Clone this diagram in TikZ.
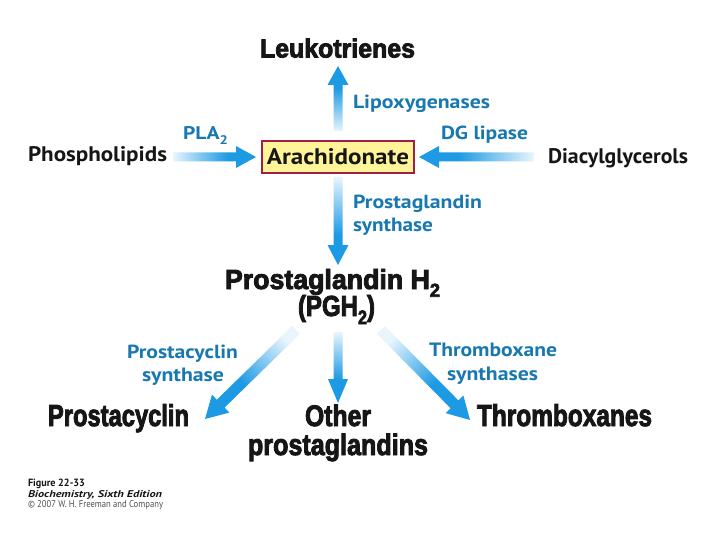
\documentclass[tikz,border=0pt]{standalone}
\usepackage{fontspec}
\usepackage{graphicx}
\setmainfont{PT Sans}
\newfontfamily\hfont{Liberation Sans}[BoldFeatures={FakeBold=3.2}]
\usetikzlibrary{calc}
\definecolor{labblue}{RGB}{24,120,176}
\definecolor{arblue}{RGB}{28,154,228}
\definecolor{arlight}{RGB}{232,245,253}
\definecolor{boxfill}{RGB}{255,245,152}
\definecolor{boxline}{RGB}{158,32,72}
\definecolor{ink}{RGB}{22,22,22}
\pgfdeclareverticalshading{arrowshade}{100bp}{color(0bp)=(arblue); color(25bp)=(arblue); color(42bp)=(arblue); color(75bp)=(arlight); color(100bp)=(arlight)}
\newcommand\lsub[1]{\raisebox{-0.28em}{\scalebox{0.68}{#1}}}
\newcommand\hd[3]{\resizebox{#1pt}{#2pt}{\hfont\bfseries #3}}
\newcommand\lb[3]{\resizebox{#1pt}{#2pt}{\bfseries #3}}
% tail, tip, shading angle, shaft half width, head half width, head length
\newcommand\fatarrow[6]{%
  \path ($(#2)!#6pt!(#1)$) coordinate (hb);
  \shade[shading=arrowshade, shading angle=#3]
    ($(#1)!#4pt!90:(#2)$) -- ($(hb)!#4pt!90:(#2)$) -- ($(hb)!#5pt!90:(#2)$) -- (#2)
    -- ($(hb)!#5pt!-90:(#2)$) -- ($(hb)!#4pt!-90:(#2)$) -- ($(#1)!#4pt!-90:(#2)$) -- cycle;}
\tikzset{
  lbl/.style={inner sep=0pt, outer sep=0pt, anchor=base west},
  enz/.style={lbl, text=labblue},
  blk/.style={lbl, text=ink},
  hdn/.style={lbl, text=ink},
  arbox/.style={draw=boxline, fill=boxfill, line width=1.2pt, minimum width=152pt, minimum height=32pt, inner sep=0pt, text=ink}
}
\begin{document}
\begin{tikzpicture}[x=1pt,y=-1pt]
\useasboundingbox (0,0) rectangle (720,540);
\fill[white] (0,0) rectangle (720,540);

% main metabolites
\node[hdn] (leuko) at (260,57.5) {\hd{155}{19}{Leukotrienes}};
\node[arbox] (arach) at (338,157) {\lb{142}{16}{Arachidonate}};
\node[blk] (phos) at (28,162) {\lb{139}{15}{Phospholipids}};
\node[blk] (dag) at (548,163.5) {\lb{140}{15}{Diacylglycerols}};
\node[hdn] (pgh) at (225,289) {\hd{215}{20}{Prostaglandin H\lsub{2}}\makebox[0pt][l]{\hspace{-142pt}\raisebox{-27pt}{\hd{77}{21}{(PGH\lsub{2})}}}};
\node[hdn] (pcyc) at (48,426) {\hd{141}{22}{Prostacyclin}};
\node[hdn] (other) at (305,426) {\hd{66}{21.5}{Other}};
\node[hdn] (opg) at (248,455) {\hd{180}{21.5}{prostaglandins}};
\node[hdn] (tbx) at (477,426) {\hd{175}{22}{Thromboxanes}};

% enzymes
\node[enz] (lox) at (353,109) {\lb{137}{13.5}{Lipoxygenases}};
\node[enz] (pla) at (183,139.5) {\lb{45}{13}{PLA\lsub{2}}};
\node[enz] (dgl) at (441,140) {\lb{87}{13.5}{DG lipase}};
\node[enz] (pgs1) at (353,208) {\lb{129}{13.5}{Prostaglandin}};
\node[enz] (pgs2) at (353,232) {\lb{80}{13.5}{synthase}};
\node[enz] (pcs1) at (127,358) {\lb{111}{13.5}{Prostacyclin}};
\node[enz] (pcs2) at (142,381.5) {\lb{82}{13.5}{synthase}};
\node[enz] (tbs1) at (429,356.5) {\lb{128}{13.5}{Thromboxane}};
\node[enz] (tbs2) at (447,380.5) {\lb{91}{13.5}{synthases}};

% arrow end points
\coordinate (upT) at (338,131);
\coordinate (upH) at (338,66);
\coordinate (dnT) at (338,177);
\coordinate (dnH) at (338,265);
\coordinate (lfT) at (173,157);
\coordinate (lfH) at (256,157);
\coordinate (rtT) at (534,157);
\coordinate (rtH) at (419,157);
\coordinate (dlT) at (296,330);
\coordinate (dlH) at (205,419);
\coordinate (mdT) at (338,332);
\coordinate (mdH) at (338,403);
\coordinate (drT) at (381,330);
\coordinate (drH) at (470,420);

\fatarrow{upT}{upH}{180}{4.5}{10.5}{19}
\fatarrow{dnT}{dnH}{0}{4.5}{10.5}{20}
\fatarrow{lfT}{lfH}{90}{4.5}{11}{20}
\fatarrow{rtT}{rtH}{-90}{4.5}{11}{20}
\fatarrow{dlT}{dlH}{-45}{5.5}{12.5}{22}
\fatarrow{mdT}{mdH}{0}{4.5}{10}{24}
\fatarrow{drT}{drH}{45}{5.5}{12.5}{22}

% caption
\node[lbl, text=ink] (fig) at (28,486) {\resizebox{57pt}{7.5pt}{\bfseries Figure 22-33}};
\node[lbl, text=ink] (book) at (28,497) {\resizebox{134pt}{7pt}{\bfseries\itshape Biochemistry, Sixth Edition}};
\node[lbl, text=ink!75] (copy) at (28,507.5) {\resizebox{135pt}{7pt}{\textcopyright\ 2007 W. H. Freeman and Company}};
\end{tikzpicture}
\end{document}
